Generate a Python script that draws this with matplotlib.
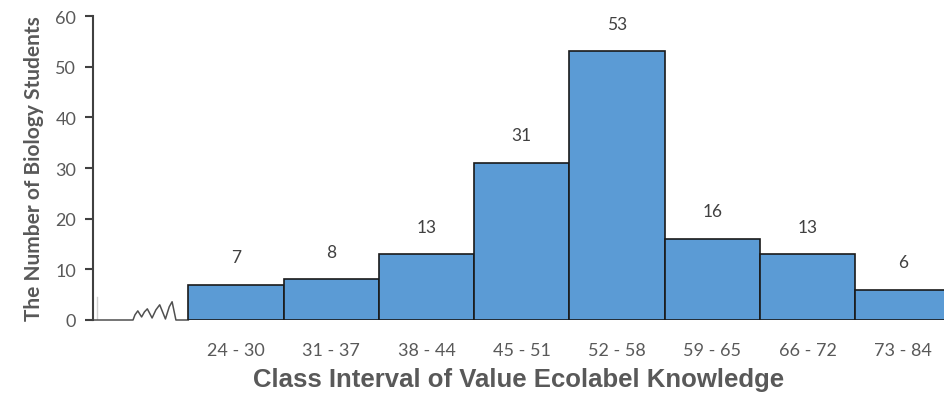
import matplotlib.pyplot as plt

# class intervals and student counts
intervals = ['24 - 30', '31 - 37', '38 - 44', '45 - 51', '52 - 58', '59 - 65', '66 - 72', '73 - 84']
students = [7, 8, 13, 31, 53, 16, 13, 6]

# axis-break squiggle drawn on the baseline before the first class
break_x = [0, 0.42, 0.44, 0.47, 0.51, 0.54, 0.57, 0.62, 0.66, 0.70, 0.76, 0.80, 0.83, 0.87, 1.0]
break_y = [0, 0, 1.0, 1.8, 0.6, 1.6, 2.2, 0.4, 2.0, 3.0, 0.2, 2.6, 3.6, 0, 0]


def main():
    fig = plt.figure(figsize=(9.44, 4.02), dpi=100)
    ax = fig.add_axes([93 / 944, 81 / 402, 851 / 944, 304 / 402])

    pos = [i + 1 for i in range(len(students))]
    ax.bar(pos, students, width=1.0, align='edge', color='#5B9BD5',
           edgecolor='#1a1a1a', linewidth=1.2, zorder=3)

    for p, v in zip(pos, students):
        ax.annotate(str(v), (p + 0.5, v), xytext=(0, 14), textcoords='offset points',
                    ha='center', va='bottom', fontsize=12.5, color='#404040',
                    family='Lato')

    ax.plot(break_x, break_y, color='#505050', lw=1.1, zorder=2, clip_on=False)
    ax.plot([0.04, 0.04], [0, 4.5], color='#d0d0d0', lw=1, zorder=1)

    ax.set_xlim(0, 851 / 95.3)
    ax.set_ylim(0, 60)
    ax.set_yticks(range(0, 61, 10))
    ax.set_xticks([p + 0.5 for p in pos])
    ax.set_xticklabels(intervals)

    for s in ['top', 'right', 'bottom']:
        ax.spines[s].set_visible(False)
    ax.spines['left'].set_color('#404040')
    ax.spines['left'].set_linewidth(1.5)
    ax.tick_params(axis='y', direction='out', length=6, width=1.5, color='#404040',
                   labelsize=13, labelcolor='#595959', pad=6)
    ax.tick_params(axis='x', length=0, labelsize=13, labelcolor='#595959', pad=16)
    for lbl in ax.get_xticklabels() + ax.get_yticklabels():
        lbl.set_family('Lato')

    ax.set_xlabel('Class Interval of Value Ecolabel Knowledge', fontsize=18.5,
                  fontweight='bold', color='#595959', family='Liberation Sans', labelpad=6)
    ax.set_ylabel('The Number of Biology Students', fontsize=15, fontweight='bold',
                  color='#595959', family='Lato', labelpad=8)

    plt.savefig('out.png', dpi=100)


if __name__ == "__main__":
    main()
